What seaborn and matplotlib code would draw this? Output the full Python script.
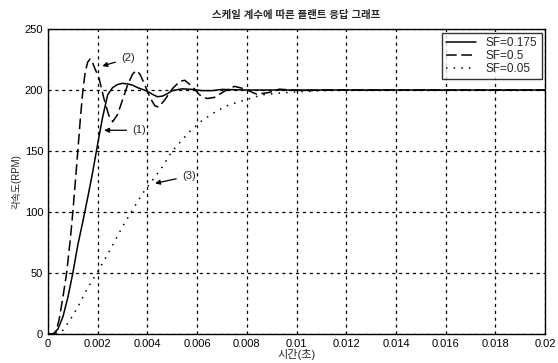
import numpy as np
import pandas as pd
import seaborn as sns
import matplotlib
matplotlib.use("Agg")
import matplotlib.pyplot as plt

# SF=0.175 (1) - solid
t_175 = [0, 0.2, 0.4, 0.6, 0.8, 1.0, 1.2, 1.4, 1.6, 1.8, 2.0, 2.2, 2.4, 2.6, 2.8,
         3.0, 3.2, 3.4, 3.6, 3.8, 4.0, 4.2, 4.4, 4.6, 4.8, 5.0, 5.4, 5.8, 6.2,
         6.6, 7.0, 8.0, 20.0]
v_175 = [0, 0, 4, 14, 30, 50, 73, 92, 112, 133, 156, 178, 196, 202, 204.5,
         205.5, 205, 204, 202, 200.5, 199, 196.5, 194.5, 195, 197, 199.5, 201, 200.5, 199.5,
         199.5, 200.5, 200, 200]

# SF=0.5 (2) - dashed
t_05 = [0, 0.3, 0.45, 0.6, 0.75, 0.9, 1.0, 1.1, 1.2, 1.3, 1.4, 1.5, 1.6, 1.7, 1.8,
        1.9, 2.05, 2.25, 2.45, 2.6, 2.8, 3.0, 3.2, 3.4, 3.55, 3.7, 3.9, 4.1, 4.3,
        4.45, 4.7, 5.0, 5.3, 5.5, 5.8, 6.1, 6.4, 6.7, 7.1, 7.5, 7.9, 8.4, 8.9,
        9.3, 9.8, 10.3, 11.0, 20.0]
v_05 = [0, 0, 12, 30, 50, 78, 100, 125, 150, 176, 199, 215, 223, 225.5, 222,
        217, 210, 193, 179, 174, 180, 192, 204, 213, 216, 213, 204, 194, 187,
        186, 192, 201, 207, 208, 203, 196, 193, 194, 199, 203, 201, 196.5, 198,
        200.7, 200, 199.5, 200, 200]

# SF=0.05 (3) - dotted
t_005 = [0, 0.4, 0.6, 0.8, 1.0, 1.3, 1.6, 2.0, 2.5, 3.0, 3.35, 3.8, 4.2, 4.6,
         5.0, 5.7, 6.2, 6.8, 7.3, 7.8, 8.6, 9.3, 10.0, 11.0, 12.0, 20.0]
v_005 = [0, 0, 3, 9, 15, 26, 38, 51, 69, 88, 100, 115, 126, 137,
         150, 166, 175, 183, 188, 191, 196, 197.5, 198.5, 199.5, 200, 200]

labels = ["SF=0.175", "SF=0.5", "SF=0.05"]
x_ticks = [0, 0.002, 0.004, 0.006, 0.008, 0.01, 0.012, 0.014, 0.016, 0.018, 0.02]
x_tick_labels = ["0", "0.002", "0.004", "0.006", "0.008", "0.01", "0.012",
                 "0.014", "0.016", "0.018", "0.02"]
y_ticks = [0, 50, 100, 150, 200, 250]

frames = []
for lab, t, v in zip(labels, [t_175, t_05, t_005], [v_175, v_05, v_005]):
    frames.append(pd.DataFrame({"t": np.array(t) / 1000.0, "rpm": v, "SF": lab}))
df = pd.concat(frames, ignore_index=True)

sns.set_style("white")
plt.rcParams["font.family"] = ["Liberation Sans", "Noto Sans CJK KR", "DejaVu Sans"]

fig = plt.figure(figsize=(5.58, 3.63), dpi=100)
ax = fig.add_axes([0.086, 0.080, 0.891, 0.840])

sns.lineplot(data=df, x="t", y="rpm", hue="SF", style="SF",
             hue_order=labels, style_order=labels,
             palette=["black"] * 3,
             dashes={"SF=0.175": "", "SF=0.5": (7, 3), "SF=0.05": (1, 4)},
             estimator=None, sort=False, linewidth=1.1, ax=ax)

ax.set_xlim(0, 0.02)
ax.set_ylim(0, 250)
ax.set_xticks(x_ticks)
ax.set_xticklabels(x_tick_labels)
ax.set_yticks(y_ticks)
ax.tick_params(direction="in", length=3, labelsize=8, colors="black")
ax.grid(True, color="black", linestyle=(0, (2.5, 3)), linewidth=0.9)
for s in ax.spines.values():
    s.set_color("black")
    s.set_linewidth(1.0)

ax.set_title("스케일 계수에 따른 플랜트 응답 그래프", fontsize=7.5, fontweight="bold", pad=8)
ax.set_xlabel("시간(초)", fontsize=8, labelpad=0)
ax.set_ylabel("각속도(RPM)", fontsize=7, labelpad=2)

handles, labs = ax.get_legend_handles_labels()
pairs = [(h, l) for h, l in zip(handles, labs) if l.startswith("SF")]
leg = ax.legend([p[0] for p in pairs], [p[1] for p in pairs], loc="upper right",
                fontsize=8.5, frameon=True, fancybox=False, borderaxespad=0.3,
                handlelength=2.6, labelspacing=0.1, borderpad=0.35)
leg.get_frame().set_edgecolor("black")
leg.get_frame().set_linewidth(1.0)

arrow = dict(arrowstyle="-|>", color="black", lw=0.9, mutation_scale=7)
ax.annotate("(1)", xy=(0.00215, 167), xytext=(0.0034, 167), fontsize=8,
            va="center", arrowprops=arrow)
ax.annotate("(2)", xy=(0.00208, 219), xytext=(0.00295, 226), fontsize=8,
            va="center", arrowprops=arrow)
ax.annotate("(3)", xy=(0.0042, 123), xytext=(0.0054, 129.5), fontsize=8,
            va="center", arrowprops=arrow)

fig.savefig("out.png", dpi=100)
